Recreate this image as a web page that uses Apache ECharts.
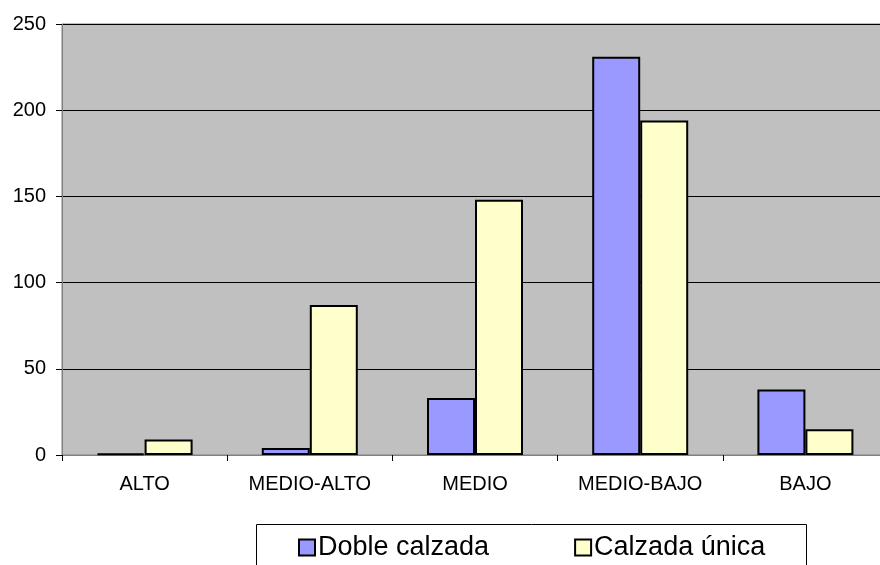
<!DOCTYPE html>
<html>
<head>
<meta charset="utf-8">
<script src="https://cdn.jsdelivr.net/npm/echarts@6/dist/echarts.min.js"></script>
<style>
html,body{margin:0;padding:0;background:#fff;overflow:hidden;width:880px;height:565px;}
#c{width:900px;height:565px;}
</style>
</head>
<body>
<div id="c"></div>
<script>
var categories = ['ALTO', 'MEDIO-ALTO', 'MEDIO', 'MEDIO-BAJO', 'BAJO'];
var dobleCalzada = [1, 4, 33, 231, 38];
var calzadaUnica = [9, 87, 148, 194, 15];
var seriesNames = ['Doble calzada', 'Calzada única'];

var chart = echarts.init(document.getElementById('c'), null, {renderer: 'canvas'});
var font = 'Arial, "Liberation Sans", sans-serif';
chart.setOption({
  animation: false,
  backgroundColor: '#ffffff',
  grid: {
    left: 62, top: 24, width: 826, height: 431,
    show: true, backgroundColor: '#c0c0c0', borderColor: '#808080', borderWidth: 1
  },
  xAxis: {
    type: 'category',
    data: categories,
    axisLine: {show: true, lineStyle: {color: '#808080', width: 1}},
    axisTick: {show: true, length: 6, lineStyle: {color: '#000'}},
    axisLabel: {color: '#000', fontSize: 20, fontFamily: font, margin: 19}
  },
  yAxis: {
    type: 'value',
    min: 0, max: 250, interval: 50,
    axisLine: {show: true, lineStyle: {color: '#808080', width: 1}},
    axisTick: {show: true, length: 6, lineStyle: {color: '#000'}},
    axisLabel: {color: '#000', fontSize: 20, fontFamily: font, margin: 16},
    splitLine: {show: true, lineStyle: {color: '#000', width: 1}}
  },
  legend: {
    left: 298, top: 534, padding: 0,
    itemWidth: 16, itemHeight: 16, itemGap: 85,
    icon: 'rect',
    textStyle: {fontSize: 27, fontFamily: font, color: '#000', padding: [0, 0, 0, -2]},
    data: seriesNames
  },
  graphic: [{
    type: 'rect', z: 1,
    shape: {x: 256.5, y: 524.5, width: 550, height: 60},
    style: {fill: '#fff', stroke: '#000', lineWidth: 1}
  }],
  series: [{
    name: seriesNames[0], type: 'bar', data: dobleCalzada,
    barWidth: 48, barGap: '0%',
    itemStyle: {color: '#9999ff', borderColor: '#000', borderWidth: 2}
  }, {
    name: seriesNames[1], type: 'bar', data: calzadaUnica,
    barWidth: 48, barGap: '0%',
    itemStyle: {color: '#ffffcc', borderColor: '#000', borderWidth: 2}
  }]
});
</script>
</body>
</html>
